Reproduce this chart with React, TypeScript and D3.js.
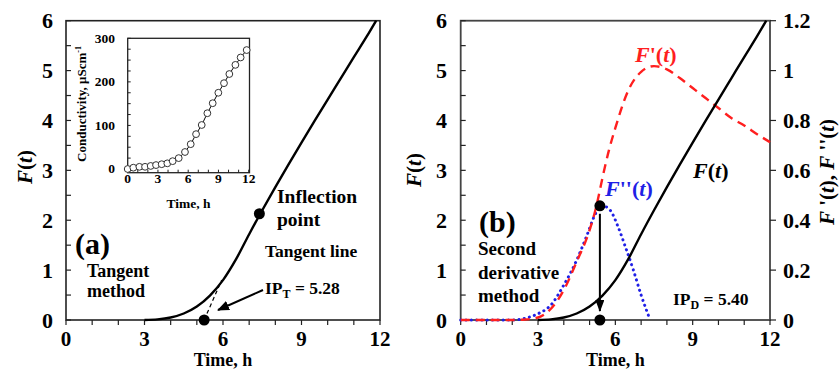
import React from "react";
import * as d3 from "d3";

// F(t) (left axis, both panels)
const fTime = [0, 3, 3.5, 4, 4.5, 5, 5.5, 6, 6.5, 7, 7.5, 8, 8.5, 9, 9.5, 10, 10.5, 11, 11.5, 11.85];
const fValue = [0, 0, 0.012, 0.05, 0.13, 0.27, 0.49, 0.8, 1.22, 1.72, 2.2, 2.665, 3.115, 3.555, 3.99, 4.42, 4.845, 5.27, 5.69, 6.0];

// F'(t) (right axis, panel b)
const d1Time = [0, 2, 2.5, 3, 3.5, 4, 4.5, 5, 5.25, 5.5, 5.75, 6, 6.5, 7, 7.5, 8, 8.5, 9, 9.5, 10, 10.5, 11, 11.5, 12];
const d1Value = [0, 0, 0.002, 0.01, 0.045, 0.12, 0.234, 0.36, 0.45, 0.57, 0.68, 0.77, 0.92, 0.995, 1.018, 1.005, 0.97, 0.93, 0.89, 0.85, 0.81, 0.78, 0.745, 0.713];

// F''(t) (right axis, panel b)
const d2Time = [0, 2, 2.5, 3, 3.5, 4, 4.5, 4.9, 5.2, 5.45, 5.8, 6.1, 6.4, 6.7, 7.0, 7.35];
const d2Value = [0, 0, 0.007, 0.025, 0.06, 0.14, 0.24, 0.34, 0.42, 0.46, 0.44, 0.375, 0.29, 0.2, 0.1, 0];

// inset: conductivity vs time
const condTime = [0, 0.56, 1.16, 1.72, 2.28, 2.81, 3.37, 3.93, 4.46, 5.06, 5.68, 6.25, 6.78, 7.34, 7.9, 8.43, 8.99, 9.55, 10.08, 10.68, 11.2, 11.8];
const condValue = [0, 3, 5, 5, 7, 9, 11, 13, 18, 25, 39, 57, 80, 101, 128, 151, 175, 197, 218, 239, 256, 273];

// key points
const inflection = { t: 7.39, f: 2.13 };
const ipT = 5.28;
const tangentEnd = { t: 5.95, f: 0.8 };
const ipD = 5.4;
const ipDPeak = 0.458;

const xTicks = [0, 3, 6, 9, 12];
const yTicks = [0, 1, 2, 3, 4, 5, 6];
const y2Ticks = [0, 0.2, 0.4, 0.6, 0.8, 1, 1.2];
const insetYTicks = [0, 100, 200, 300];

const FONT = '"Liberation Serif", "Times New Roman", serif';
const RED = "#ff1f1f";
const BLUE = "#1f1fe6";

type P = [number, number];
const zip = (a: number[], b: number[]): P[] => a.map((v, i) => [v, b[i]]);

function Fx({ primes = "", space = false }: { primes?: string; space?: boolean }) {
  return (
    <>
      <tspan fontStyle="italic">F</tspan>
      {primes ? <tspan>{(space ? " " : "") + primes}</tspan> : null}
      <tspan>(</tspan>
      <tspan fontStyle="italic">t</tspan>
      <tspan>)</tspan>
    </>
  );
}

export default function App() {
  const top = 20.7;
  const bot = 320;
  const xA = d3.scaleLinear().domain([0, 12]).range([66, 380]);
  const xB = d3.scaleLinear().domain([0, 12]).range([460.7, 770]);
  const yF = d3.scaleLinear().domain([0, 6]).range([bot, top]);
  const yD = d3.scaleLinear().domain([0, 1.2]).range([bot, top]);
  const xIn = d3.scaleLinear().domain([0, 12]).range([127.7, 248.7]);
  const yIn = d3.scaleLinear().domain([-8.5, 300]).range([172.7, 38.3]);

  const lineA = d3.line<P>().x((d) => xA(d[0])).y((d) => yF(d[1])).curve(d3.curveMonotoneX);
  const lineBF = d3.line<P>().x((d) => xB(d[0])).y((d) => yF(d[1])).curve(d3.curveMonotoneX);
  const lineBD = d3.line<P>().x((d) => xB(d[0])).y((d) => yD(d[1])).curve(d3.curveMonotoneX);
  const lineIn = d3.line<P>().x((d) => xIn(d[0])).y((d) => yIn(d[1]));

  const fData = zip(fTime, fValue).filter((d) => d[0] >= 3);
  const d1Data = zip(d1Time, d1Value);
  const d2Data = zip(d2Time, d2Value);
  const condData = zip(condTime, condValue);

  const hours = d3.range(0, 13, 1);
  const halfUnits = d3.range(0, 6.01, 0.5);

  const axisCol = "#222";

  return (
    <svg width={840} height={371} style={{ position: "absolute", left: 0, top: 0, background: "#fff" }} fontFamily={FONT} fontWeight="bold">
      <defs>
        <marker id="arrA" viewBox="0 0 12 10" refX="11" refY="5" markerWidth="12" markerHeight="10" markerUnits="userSpaceOnUse" orient="auto">
          <path d="M0,0 L12,5 L0,10 z" fill="#000" />
        </marker>
        <marker id="arrB" viewBox="0 0 12 9" refX="11" refY="4.5" markerWidth="12" markerHeight="9" markerUnits="userSpaceOnUse" orient="auto">
          <path d="M0,0 L12,4.5 L0,9 z" fill="#000" />
        </marker>
      </defs>

      {/* ---------- panel (a) ---------- */}
      <rect x={xA(0)} y={top} width={xA(12) - xA(0)} height={bot - top} fill="none" stroke={axisCol} strokeWidth={1.6} />
      {hours.map((h) => (
        <line key={"ax" + h} x1={xA(h)} x2={xA(h)} y1={bot} y2={bot + 5} stroke={axisCol} strokeWidth={1.2} />
      ))}
      {halfUnits.map((v) => (
        <line key={"ay" + v} x1={xA(0)} x2={xA(0) + 5} y1={yF(v)} y2={yF(v)} stroke={axisCol} strokeWidth={1.2} />
      ))}
      {xTicks.map((v) => (
        <text key={"axl" + v} x={xA(v)} y={346} textAnchor="middle" fontSize={21}>{v}</text>
      ))}
      {yTicks.map((v) => (
        <text key={"ayl" + v} x={53} y={yF(v) + 7.5} textAnchor="end" fontSize={22}>{v}</text>
      ))}
      <text x={223} y={366} textAnchor="middle" fontSize={18}>Time, h</text>
      <text transform="translate(32,167) rotate(-90)" textAnchor="middle" fontSize={21}><Fx /></text>

      {/* F(t) curve */}
      <path d={lineA(fData) || ""} fill="none" stroke="#000" strokeWidth={2.4} />
      {/* tangent line */}
      <line x1={xA(ipT)} y1={yF(0)} x2={xA(tangentEnd.t)} y2={yF(tangentEnd.f)} stroke="#000" strokeWidth={1.2} strokeDasharray="4 3" />
      <circle cx={xA(inflection.t)} cy={yF(inflection.f)} r={5.5} fill="#000" />
      <circle cx={xA(ipT)} cy={yF(0)} r={5.5} fill="#000" />
      <line x1={263} y1={290} x2={xA(5.81)} y2={yF(0.2)} stroke="#000" strokeWidth={2} markerEnd="url(#arrA)" />

      <text x={277} y={203} fontSize={19.5}>Inflection</text>
      <text x={277} y={226} fontSize={19.5}>point</text>
      <text x={265} y={257} fontSize={17.5}>Tangent line</text>
      <text x={265} y={294} fontSize={17.5}>
        IP<tspan fontSize={12} dy={4}>T</tspan><tspan dy={-4}> = 5.28</tspan>
      </text>
      <text x={75} y={254} fontSize={30}>(a)</text>
      <text x={87} y={277} fontSize={18}>Tangent</text>
      <text x={87} y={297} fontSize={18}>method</text>

      {/* inset */}
      <rect x={xIn(0)} y={yIn(300)} width={249.5 - xIn(0)} height={yIn(-8.5) - yIn(300)} fill="#fff" stroke={axisCol} strokeWidth={1.3} />
      {hours.map((h) => (
        <line key={"ix" + h} x1={xIn(h)} x2={xIn(h)} y1={yIn(-8.5)} y2={yIn(-8.5) - 3} stroke={axisCol} strokeWidth={1} />
      ))}
      {d3.range(0, 301, 25).map((v) => (
        <line key={"iy" + v} x1={xIn(0)} x2={xIn(0) + 3} y1={yIn(v)} y2={yIn(v)} stroke={axisCol} strokeWidth={1} />
      ))}
      {xTicks.map((v) => (
        <text key={"ixl" + v} x={xIn(v)} y={183} textAnchor="middle" fontSize={13.5}>{v}</text>
      ))}
      {insetYTicks.map((v) => (
        <text key={"iyl" + v} x={115} y={yIn(v) + 4.5} textAnchor="end" fontSize={13.5}>{v}</text>
      ))}
      <text x={188.5} y={207.5} textAnchor="middle" fontSize={13.5}>Time, h</text>
      <text transform="translate(86,104) rotate(-90)" textAnchor="middle" fontSize={13}>
        Conductivity, μScm<tspan fontSize={8} dy={-5}>-1</tspan>
      </text>
      <path d={lineIn(condData) || ""} fill="none" stroke="#000" strokeWidth={1} />
      {condData.map((d, i) => (
        <circle key={"c" + i} cx={xIn(d[0])} cy={yIn(d[1])} r={3.4} fill="#fff" stroke="#333" strokeWidth={1} />
      ))}

      {/* ---------- panel (b) ---------- */}
      <rect x={xB(0)} y={top} width={xB(12) - xB(0)} height={bot - top} fill="none" stroke="#444" strokeWidth={1.8} />
      {hours.map((h) => (
        <line key={"bx" + h} x1={xB(h)} x2={xB(h)} y1={bot} y2={bot + 5} stroke={axisCol} strokeWidth={1.2} />
      ))}
      {halfUnits.map((v) => (
        <line key={"by" + v} x1={xB(0)} x2={xB(0) + 5} y1={yF(v)} y2={yF(v)} stroke={axisCol} strokeWidth={1.2} />
      ))}
      {y2Ticks.map((v) => (
        <line key={"by2" + v} x1={xB(12)} x2={xB(12) + 6} y1={yD(v)} y2={yD(v)} stroke={axisCol} strokeWidth={1.2} />
      ))}
      {xTicks.map((v) => (
        <text key={"bxl" + v} x={xB(v)} y={346} textAnchor="middle" fontSize={21}>{v}</text>
      ))}
      {yTicks.map((v) => (
        <text key={"byl" + v} x={447} y={yF(v) + 7.5} textAnchor="end" fontSize={22}>{v}</text>
      ))}
      {y2Ticks.map((v) => (
        <text key={"by2l" + v} x={783} y={yD(v) + 7.5} textAnchor="start" fontSize={22}>{String(+v.toFixed(1))}</text>
      ))}
      <text x={xB(6)} y={366} textAnchor="middle" fontSize={18}>Time, h</text>
      <text transform="translate(421,170) rotate(-90)" textAnchor="middle" fontSize={21}><Fx /></text>
      <text transform="translate(834,172) rotate(-90)" textAnchor="middle" fontSize={21}>
        <Fx primes="'" space />
        <tspan>, </tspan>
        <Fx primes="''" space />
      </text>

      <path d={lineBD(d2Data) || ""} fill="none" stroke={BLUE} strokeWidth={3} strokeDasharray="0.1 5.2" strokeLinecap="round" />
      <path d={lineBD(d1Data) || ""} fill="none" stroke={RED} strokeWidth={2.4} strokeDasharray="9 6" />
      <path d={lineBF(fData) || ""} fill="none" stroke="#000" strokeWidth={2.4} />

      <circle cx={xB(ipD)} cy={yD(ipDPeak)} r={5.5} fill="#000" />
      <circle cx={xB(ipD)} cy={yD(0)} r={5.5} fill="#000" />
      <line x1={xB(ipD)} y1={yD(ipDPeak) + 8} x2={xB(ipD)} y2={311} stroke="#000" strokeWidth={2} markerEnd="url(#arrB)" />

      <text x={635} y={62} fontSize={22} fill={RED}><Fx primes="'" /></text>
      <text x={605} y={196} fontSize={22} fill={BLUE}><Fx primes="''" /></text>
      <text x={693} y={178} fontSize={22}><Fx /></text>
      <text x={479} y={232} fontSize={30}>(b)</text>
      <text x={478} y={255} fontSize={19}>Second</text>
      <text x={478} y={278.5} fontSize={19}>derivative</text>
      <text x={478} y={301.5} fontSize={19}>method</text>
      <text x={673} y={305} fontSize={17.5}>
        IP<tspan fontSize={12} dy={4}>D</tspan><tspan dy={-4}> = 5.40</tspan>
      </text>
    </svg>
  );
}
